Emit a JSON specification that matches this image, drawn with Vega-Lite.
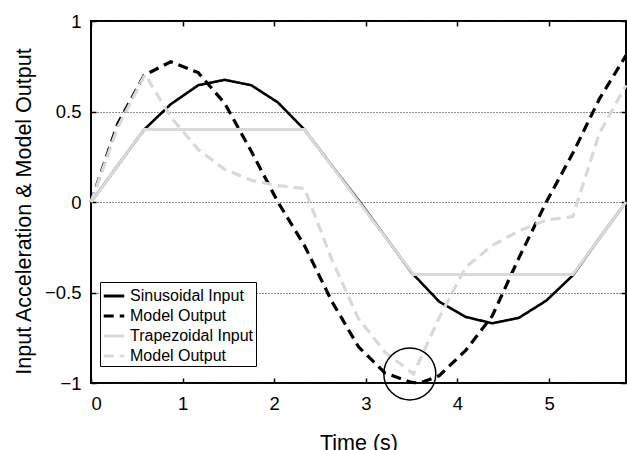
{
  "$schema": "https://vega.github.io/schema/vega-lite/v6.json",
  "width": 535,
  "height": 362,
  "autosize": {"type": "none"},
  "padding": {"left": 91, "top": 21, "right": 1, "bottom": 67},
  "background": "#ffffff",
  "config": {
    "font": "Liberation Sans",
    "view": {"stroke": "#000000", "strokeWidth": 2},
    "axis": {
      "domain": false,
      "grid": false,
      "labelFont": "Liberation Sans",
      "labelFontSize": 18.5,
      "labelColor": "#000000",
      "titleFont": "Liberation Sans",
      "titleFontSize": 21.5,
      "titleFontWeight": "normal",
      "titleColor": "#000000",
      "tickColor": "#000000",
      "tickWidth": 1.5
    },
    "legend": {
      "orient": "none",
      "legendX": 9,
      "legendY": 261,
      "labelFont": "Liberation Sans",
      "labelFontSize": 16,
      "labelColor": "#000000",
      "symbolType": "stroke",
      "symbolSize": 420,
      "symbolStrokeWidth": 3,
      "rowPadding": 0,
      "padding": 2,
      "labelOffset": 4,
      "strokeColor": "#000000",
      "fillColor": "#ffffff"
    }
  },
  "datasets": {
    "lines": [
      {"t": 0, "value": 0, "series": "Sinusoidal Input"},
      {"t": 0.29, "value": 0.2, "series": "Sinusoidal Input"},
      {"t": 0.58, "value": 0.4, "series": "Sinusoidal Input"},
      {"t": 0.87, "value": 0.54, "series": "Sinusoidal Input"},
      {"t": 1.17, "value": 0.645, "series": "Sinusoidal Input"},
      {"t": 1.46, "value": 0.675, "series": "Sinusoidal Input"},
      {"t": 1.75, "value": 0.645, "series": "Sinusoidal Input"},
      {"t": 2.04, "value": 0.55, "series": "Sinusoidal Input"},
      {"t": 2.33, "value": 0.4, "series": "Sinusoidal Input"},
      {"t": 2.63, "value": 0.2, "series": "Sinusoidal Input"},
      {"t": 2.92, "value": 0.01, "series": "Sinusoidal Input"},
      {"t": 3.21, "value": -0.19, "series": "Sinusoidal Input"},
      {"t": 3.5, "value": -0.39, "series": "Sinusoidal Input"},
      {"t": 3.8, "value": -0.55, "series": "Sinusoidal Input"},
      {"t": 4.09, "value": -0.635, "series": "Sinusoidal Input"},
      {"t": 4.38, "value": -0.67, "series": "Sinusoidal Input"},
      {"t": 4.67, "value": -0.64, "series": "Sinusoidal Input"},
      {"t": 4.97, "value": -0.545, "series": "Sinusoidal Input"},
      {"t": 5.26, "value": -0.405, "series": "Sinusoidal Input"},
      {"t": 5.55, "value": -0.2, "series": "Sinusoidal Input"},
      {"t": 5.84, "value": 0, "series": "Sinusoidal Input"},

      {"t": 0, "value": 0, "series": "Model Output (sinusoidal)"},
      {"t": 0.29, "value": 0.43, "series": "Model Output (sinusoidal)"},
      {"t": 0.58, "value": 0.7, "series": "Model Output (sinusoidal)"},
      {"t": 0.87, "value": 0.775, "series": "Model Output (sinusoidal)"},
      {"t": 1.17, "value": 0.715, "series": "Model Output (sinusoidal)"},
      {"t": 1.46, "value": 0.545, "series": "Model Output (sinusoidal)"},
      {"t": 1.75, "value": 0.28, "series": "Model Output (sinusoidal)"},
      {"t": 2.04, "value": 0.0, "series": "Model Output (sinusoidal)"},
      {"t": 2.33, "value": -0.24, "series": "Model Output (sinusoidal)"},
      {"t": 2.63, "value": -0.55, "series": "Model Output (sinusoidal)"},
      {"t": 2.92, "value": -0.8, "series": "Model Output (sinusoidal)"},
      {"t": 3.21, "value": -0.945, "series": "Model Output (sinusoidal)"},
      {"t": 3.5, "value": -0.997, "series": "Model Output (sinusoidal)"},
      {"t": 3.59, "value": -1.0, "series": "Model Output (sinusoidal)"},
      {"t": 3.8, "value": -0.96, "series": "Model Output (sinusoidal)"},
      {"t": 4.09, "value": -0.82, "series": "Model Output (sinusoidal)"},
      {"t": 4.38, "value": -0.63, "series": "Model Output (sinusoidal)"},
      {"t": 4.67, "value": -0.31, "series": "Model Output (sinusoidal)"},
      {"t": 4.97, "value": 0.0, "series": "Model Output (sinusoidal)"},
      {"t": 5.26, "value": 0.27, "series": "Model Output (sinusoidal)"},
      {"t": 5.55, "value": 0.57, "series": "Model Output (sinusoidal)"},
      {"t": 5.84, "value": 0.81, "series": "Model Output (sinusoidal)"},

      {"t": 0, "value": 0, "series": "Trapezoidal Input"},
      {"t": 0.58, "value": 0.4, "series": "Trapezoidal Input"},
      {"t": 2.33, "value": 0.4, "series": "Trapezoidal Input"},
      {"t": 3.52, "value": -0.4, "series": "Trapezoidal Input"},
      {"t": 5.26, "value": -0.4, "series": "Trapezoidal Input"},
      {"t": 5.84, "value": 0, "series": "Trapezoidal Input"},

      {"t": 0, "value": 0, "series": "Model Output (trapezoidal)"},
      {"t": 0.29, "value": 0.41, "series": "Model Output (trapezoidal)"},
      {"t": 0.59, "value": 0.705, "series": "Model Output (trapezoidal)"},
      {"t": 0.87, "value": 0.47, "series": "Model Output (trapezoidal)"},
      {"t": 1.17, "value": 0.29, "series": "Model Output (trapezoidal)"},
      {"t": 1.46, "value": 0.18, "series": "Model Output (trapezoidal)"},
      {"t": 1.75, "value": 0.12, "series": "Model Output (trapezoidal)"},
      {"t": 2.04, "value": 0.09, "series": "Model Output (trapezoidal)"},
      {"t": 2.33, "value": 0.075, "series": "Model Output (trapezoidal)"},
      {"t": 2.63, "value": -0.32, "series": "Model Output (trapezoidal)"},
      {"t": 2.92, "value": -0.645, "series": "Model Output (trapezoidal)"},
      {"t": 3.21, "value": -0.83, "series": "Model Output (trapezoidal)"},
      {"t": 3.52, "value": -0.95, "series": "Model Output (trapezoidal)"},
      {"t": 3.8, "value": -0.64, "series": "Model Output (trapezoidal)"},
      {"t": 4.09, "value": -0.36, "series": "Model Output (trapezoidal)"},
      {"t": 4.38, "value": -0.24, "series": "Model Output (trapezoidal)"},
      {"t": 4.67, "value": -0.16, "series": "Model Output (trapezoidal)"},
      {"t": 4.97, "value": -0.1, "series": "Model Output (trapezoidal)"},
      {"t": 5.26, "value": -0.08, "series": "Model Output (trapezoidal)"},
      {"t": 5.55, "value": 0.38, "series": "Model Output (trapezoidal)"},
      {"t": 5.84, "value": 0.645, "series": "Model Output (trapezoidal)"}
    ],
    "circle": [{"t": 3.48, "value": -0.95}]
  },
  "resolve": {"axis": {"x": "independent", "y": "independent"}},
  "layer": [
    {
      "data": {"name": "lines"},
      "transform": [{"filter": "datum.series === 'Sinusoidal Input'"}],
      "mark": {"type": "line", "strokeWidth": 2.6, "strokeCap": "butt"},
      "encoding": {
        "x": {
          "field": "t", "type": "quantitative",
          "scale": {"domain": [0, 5.84], "nice": false, "zero": false},
          "axis": {"orient": "bottom", "values": [0, 1, 2, 3, 4, 5], "format": "~g", "tickSize": -5, "labelPadding": 31, "labelBaseline": "alphabetic", "title": "Time (s)", "titleY": 66, "titleBaseline": "alphabetic"}
        },
        "y": {
          "field": "value", "type": "quantitative",
          "scale": {"domain": [-1, 1], "nice": false, "zero": false},
          "axis": {"orient": "left", "values": [-1, -0.5, 0, 0.5, 1], "format": "~g", "tickSize": -5, "labelPadding": 15, "grid": true, "gridDash": [1, 2], "gridColor": "#222222", "gridWidth": 1, "title": ["Input Acceleration & Model Output"], "titleX": -56, "titleY": 190, "titleBaseline": "bottom", "titleAngle": 270, "titleAlign": "center", "titleLimit": 0}
        },
        "color": {
          "field": "series", "type": "nominal",
          "scale": {"domain": ["Sinusoidal Input", "Model Output (sinusoidal)", "Trapezoidal Input", "Model Output (trapezoidal)"], "range": ["#000000", "#000000", "#d9d9d9", "#d9d9d9"]},
          "legend": {"title": null, "labelExpr": "indexof(datum.label, 'Model Output') === 0 ? 'Model Output' : datum.label"}
        },
        "strokeDash": {
          "field": "series", "type": "nominal",
          "scale": {"domain": ["Sinusoidal Input", "Model Output (sinusoidal)", "Trapezoidal Input", "Model Output (trapezoidal)"], "range": [[1, 0], [10, 6], [1, 0], [10, 6]]},
          "legend": {"title": null, "labelExpr": "indexof(datum.label, 'Model Output') === 0 ? 'Model Output' : datum.label"}
        }
      }
    },
    {
      "data": {"name": "lines"},
      "transform": [{"filter": "datum.series === 'Model Output (sinusoidal)'"}],
      "mark": {"type": "line", "strokeWidth": 3.2, "strokeCap": "butt"},
      "encoding": {
        "x": {"field": "t", "type": "quantitative", "axis": null},
        "y": {"field": "value", "type": "quantitative", "axis": null},
        "color": {"field": "series", "type": "nominal"},
        "strokeDash": {"field": "series", "type": "nominal"}
      }
    },
    {
      "data": {"name": "lines"},
      "transform": [{"filter": "datum.series === 'Trapezoidal Input'"}],
      "mark": {"type": "line", "strokeWidth": 3, "strokeCap": "butt"},
      "encoding": {
        "x": {"field": "t", "type": "quantitative", "axis": null},
        "y": {"field": "value", "type": "quantitative", "axis": null},
        "color": {"field": "series", "type": "nominal"},
        "strokeDash": {"field": "series", "type": "nominal"}
      }
    },
    {
      "data": {"name": "lines"},
      "transform": [{"filter": "datum.series === 'Model Output (trapezoidal)'"}],
      "mark": {"type": "line", "strokeWidth": 3.2, "strokeCap": "butt"},
      "encoding": {
        "x": {"field": "t", "type": "quantitative", "axis": null},
        "y": {"field": "value", "type": "quantitative", "axis": null},
        "color": {"field": "series", "type": "nominal"},
        "strokeDash": {"field": "series", "type": "nominal"}
      }
    },
    {
      "data": {"name": "circle"},
      "mark": {"type": "point", "shape": "circle", "size": 2704, "filled": false, "color": "#000000", "strokeWidth": 1.5, "opacity": 1},
      "encoding": {
        "x": {"field": "t", "type": "quantitative", "axis": {"orient": "top", "values": [0, 1, 2, 3, 4, 5], "labels": false, "tickSize": -5, "title": null, "grid": false}},
        "y": {"field": "value", "type": "quantitative", "axis": {"orient": "right", "values": [-1, -0.5, 0, 0.5, 1], "labels": false, "tickSize": -5, "title": null, "grid": false}}
      }
    }
  ]
}
